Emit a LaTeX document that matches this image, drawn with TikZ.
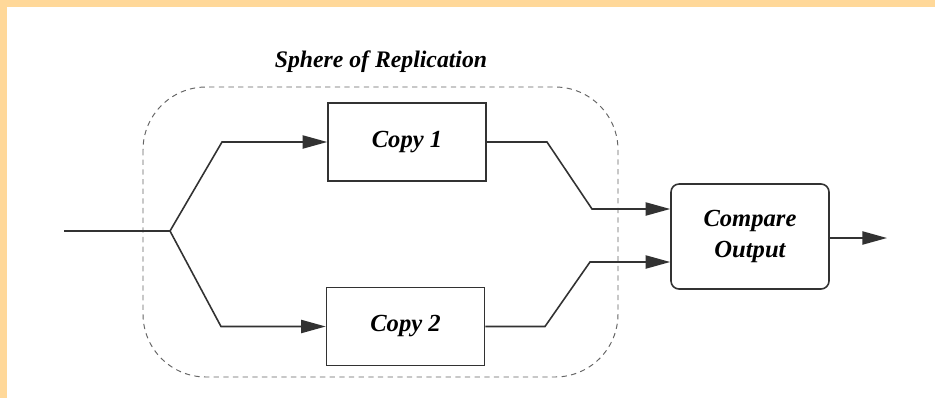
\documentclass[tikz,border=0pt]{standalone}
\usepackage{fontspec}
\setmainfont{Liberation Serif}
\usepackage{tikz}
\usetikzlibrary{arrows.meta, positioning}
\definecolor{ink}{RGB}{50,50,50}
\definecolor{edge}{RGB}{255,216,153}
\tikzstyle{box}=[fill=white, draw=ink, line width=0.9pt, shape=rectangle, minimum width=3.16cm, minimum height=1.56cm, font=\fontsize{14}{17}\selectfont\bfseries\itshape]
\tikzstyle{rbox}=[box, rounded corners=0.16cm, minimum height=2.1cm, align=center, font=\fontsize{14}{18}\selectfont\bfseries\itshape]
\tikzstyle{wire}=[draw=ink, line width=0.9pt]
\tikzstyle{arw}=[wire, -{Triangle[length=14pt, width=7.5pt]}]

\begin{document}
\begin{tikzpicture}
		\useasboundingbox (0,0) rectangle (18.7,-7.96);
		\fill[white] (0,0) rectangle (18.7,-7.96);
		\fill[edge] (0,0) rectangle (18.7,-0.14);
		\fill[edge] (0,0) rectangle (0.14,-7.96);

		% sphere of replication
		\draw[draw=ink!75, line width=0.55pt, dash pattern=on 3pt off 2.5pt, rounded corners=1.26cm] (2.86,-1.74) rectangle (12.36,-7.54);
		\node[font=\fontsize{13.5}{16}\selectfont\bfseries\itshape] (title) at (7.62,-1.24) {Sphere of Replication};

		\node[style=box] (c1) at (8.14,-2.84) {Copy 1};
		\node[style=box] (c2) at (8.11,-6.53) {Copy 2};
		\node[style=rbox] (cmp) at (15.0,-4.73) {Compare\\Output};

		\coordinate (in) at (1.28,-4.62);
		\coordinate (split) at (3.4,-4.62);
		\coordinate (up) at (4.44,-2.84);
		\coordinate (down) at (4.42,-6.53);
		\coordinate (a1) at (10.94,-2.84);
		\coordinate (a2) at (11.84,-4.18);
		\coordinate (b1) at (10.9,-6.53);
		\coordinate (b2) at (11.8,-5.24);
		\coordinate (out) at (17.74,-4.76);

		\draw[style=wire] (in) -- (split);
		\draw[style=arw] (split) -- (up) -- (c1.west);
		\draw[style=arw] (split) -- (down) -- (c2.west);
		\draw[style=arw] (c1.east) -- (a1) -- (a2) -- (a2 -| cmp.west);
		\draw[style=arw] (c2.east) -- (b1) -- (b2) -- (b2 -| cmp.west);
		\draw[style=arw] (cmp.east |- out) -- (out);
	\end{tikzpicture}
\end{document}
